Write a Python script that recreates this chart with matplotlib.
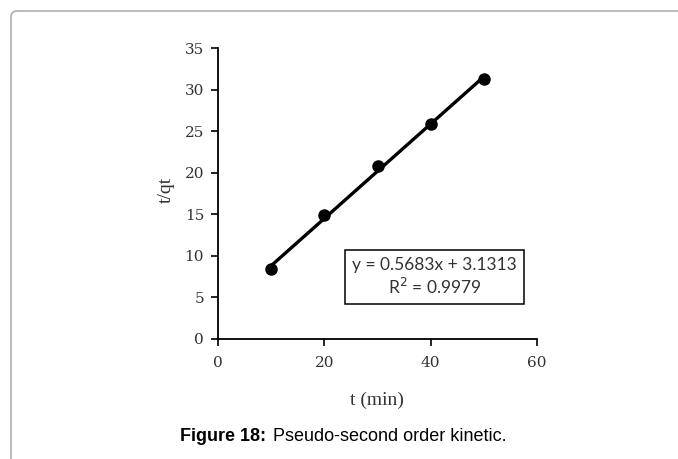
import matplotlib.pyplot as plt
import numpy as np
from matplotlib.patches import FancyBboxPatch
from matplotlib.transforms import IdentityTransform

# kinetic data
t_min = [10, 20, 30, 40, 50]
t_over_qt = [8.4, 14.9, 20.8, 25.9, 31.3]
slope = 0.5683
intercept = 3.1313
r_squared = 0.9979

x_ticks = [0, 20, 40, 60]
y_ticks = [0, 5, 10, 15, 20, 25, 30, 35]


def main():
    fig = plt.figure(figsize=(6.78, 4.59), dpi=100)
    ax = fig.add_axes([218 / 678, 1 - 339 / 459, (537 - 218) / 678, (339 - 48) / 459])

    # fitted trend line over the measured range
    xs = np.array([t_min[0], t_min[-1]])
    ax.plot(xs, slope * xs + intercept, color='black', lw=2.4, solid_capstyle='round', zorder=2)
    ax.plot(t_min, t_over_qt, 'o', color='black', ms=8, zorder=3)

    ax.set_xlim(0, 60)
    ax.set_ylim(0, 35)
    ax.set_xticks(x_ticks)
    ax.set_yticks(y_ticks)
    for lab in ax.get_xticklabels() + ax.get_yticklabels():
        lab.set_family('DejaVu Serif')
        lab.set_fontsize(11)
        lab.set_color('#333333')
    ax.tick_params(direction='out', length=5, width=1.2)
    ax.tick_params(axis='x', pad=7)
    ax.tick_params(axis='y', pad=5)
    ax.spines['top'].set_visible(False)
    ax.spines['right'].set_visible(False)
    for s in ('left', 'bottom'):
        ax.spines[s].set_linewidth(1.3)

    fig.text(377 / 678, 1 - 400 / 459, 't (min)', ha='center', va='center',
             family='Liberation Serif', fontsize=14, color='#333333')
    fig.text(166 / 678, 1 - 190 / 459, 't/qt', ha='center', va='center', rotation=90,
             family='Liberation Serif', fontsize=14, color='#333333')

    eq = 'y = %.4fx + %.4f\nR$^2$ = %.4f' % (slope, intercept, r_squared)
    fig.text(434.5 / 678, 1 - 277 / 459, eq, ha='center', va='center',
             family='Lato', fontsize=12.5, color='#333333', linespacing=1.2,
             bbox=dict(boxstyle='square,pad=0.42', fc='white', ec='black', lw=1.1))

    fig.text(266 / 678, 0.048, 'Figure 18:', ha='right', va='center',
             family='Liberation Sans', fontweight='bold', fontsize=13)
    fig.text(273 / 678, 0.048, 'Pseudo-second order kinetic.', ha='left', va='center',
             family='Liberation Sans', fontsize=13)

    # rounded page frame
    frame = FancyBboxPatch((11, -30), 700, 478, boxstyle='round,pad=0,rounding_size=6',
                           transform=IdentityTransform(), fc='none', ec='#b5b5b5', lw=1.3)
    fig.patches.append(frame)

    fig.savefig('out.png', dpi=100)


if __name__ == "__main__":
    main()
